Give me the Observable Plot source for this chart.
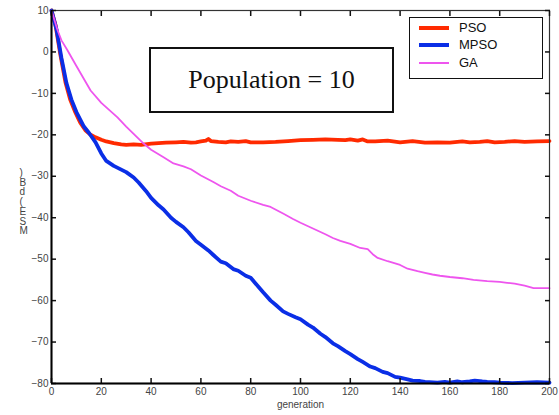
<!DOCTYPE html>
<html>
<head>
<meta charset="utf-8">
<script src="https://cdn.jsdelivr.net/npm/d3@7"></script>
<script src="https://cdn.jsdelivr.net/npm/@observablehq/plot@0.6"></script>
<style>
  html, body { margin: 0; padding: 0; background: #fff; }
  #wrap { position: relative; width: 559px; height: 415px; font-family: "Liberation Sans", Arial, sans-serif; }
  #legend { position: absolute; left: 409px; top: 17px; width: 132px; height: 60px; border: 1.5px solid #111; background: #fff; }
  .item { position: absolute; left: 9px; height: 16px; font-size: 13px; color: #111; }
  .item .sw { position: absolute; left: 0; width: 30px; }
  .item .lb { position: absolute; left: 40px; top: 0; line-height: 16px; white-space: nowrap; }
  #pop { position: absolute; left: 149px; top: 47px; width: 241px; height: 62px; border: 2px solid #111; background: #fff;
         font-family: "Liberation Serif", "Times New Roman", serif; font-size: 26px; display: flex; align-items: center; justify-content: center; color: #111; }
</style>
</head>
<body>
<div id="wrap"></div>
<script>
// ---- data ----
const seriesNames = ["PSO", "MPSO", "GA"];
const seriesColors = ["#ff2a00", "#0a2ee6", "#ee55ee"];
const seriesWidths = [3.8, 3.8, 1.8];

const psoGen = [0,1.6,3.6,5.6,7.5,9.6,11.5,13.6,15.5,17.7,20,22,25,28,30,33,36,40,43,46,50,53,56,58,60,62,63,64,67,70,72,75,78,80,85,90,95,100,105,110,115,118,120,123,125,127,130,135,140,145,150,155,160,165,168,172,175,178,182,186,190,195,200];
const psoMSE = [10,6.5,-0.8,-7.3,-11.5,-14.6,-17,-18.9,-19.9,-20.6,-21.2,-21.6,-22.0,-22.3,-22.4,-22.3,-22.4,-22.1,-22.0,-21.9,-21.8,-21.7,-21.9,-21.8,-21.6,-21.4,-21.0,-21.5,-21.7,-21.8,-21.6,-21.7,-21.5,-21.8,-21.8,-21.7,-21.5,-21.3,-21.2,-21.1,-21.2,-21.3,-21.1,-21.4,-21.1,-21.6,-21.6,-21.4,-21.8,-21.5,-21.9,-21.8,-21.9,-21.6,-21.8,-21.7,-21.5,-21.8,-21.7,-21.5,-21.7,-21.6,-21.5];

const mpsoGen = [0,2,4,6,8,10,13,15,17.7,20,22,25,28,30,33,35,38,40,43,45,48,50,53,55,58,60,63,65,68,70,73,75,78,80,83,85,88,90,93,95,98,100,103,105,108,110,113,115,118,120,123,125,128,130,133,135,138,140,143,145,148,150,155,158,160,163,165,168,170,173,175,178,180,185,190,195,200];
const mpsoMSE = [10,5.5,-1.5,-7.5,-11.5,-14.5,-18,-19.5,-21.8,-24.5,-26.3,-27.5,-28.4,-29.0,-30.3,-31.5,-33.6,-35.2,-37.0,-38.0,-40.0,-41.0,-42.3,-43.5,-45.6,-46.5,-47.9,-49.0,-50.6,-51.0,-52.4,-52.8,-54.0,-54.5,-56.6,-58.0,-60.0,-61.0,-62.6,-63.2,-64.0,-64.5,-65.8,-66.5,-68.0,-68.8,-70.3,-71.0,-72.2,-72.9,-74.1,-74.8,-75.9,-76.3,-77.2,-77.5,-78.4,-78.6,-79.0,-79.3,-79.4,-79.6,-79.8,-79.6,-79.8,-79.5,-79.7,-79.5,-79.3,-79.5,-79.6,-79.7,-79.8,-79.9,-79.8,-79.7,-79.8];

const gaGen = [0,2.4,4,6.4,10,15.7,20,26.5,30,37,40,45,49,53,56,60,65,68,72,75,80,85,88,93,97,100,105,110,113,116,120,124,127,129,131,135,138,140,143,147,150,153,156,160,165,169.5,175,180,183,186,190,193.6,200];
const gaMSE = [10,5.3,2.8,0.4,-3.4,-9.3,-12.3,-15.8,-18.0,-22.1,-23.6,-25.4,-26.9,-27.6,-28.3,-29.8,-31.4,-32.4,-33.5,-34.7,-35.9,-36.9,-37.4,-39.0,-40.3,-41.2,-42.6,-44.0,-44.9,-45.6,-46.3,-47.3,-47.6,-48.8,-49.7,-50.5,-51.0,-51.4,-52.3,-52.9,-53.3,-53.7,-54.0,-54.3,-54.6,-55.0,-55.3,-55.5,-55.7,-55.9,-56.4,-57.0,-57.0];

const xTicks = [0,20,40,60,80,100,120,140,160,180,200];
const yTicks = [10,0,-10,-20,-30,-40,-50,-60,-70,-80];
const xLabel = "generation";
const yLabel = "MSE(dB)";
const boxText = "Population = 10";

// ---- build table ----
const rows = [];
const gens = [psoGen, mpsoGen, gaGen];
const vals = [psoMSE, mpsoMSE, gaMSE];
seriesNames.forEach((s, i) => gens[i].forEach((g, j) => rows.push({series: s, gen: g, mse: vals[i][j]})));

const lineMarks = seriesNames.map((s, i) =>
  Plot.line(rows.filter(d => d.series === s), {x: "gen", y: "mse", stroke: seriesColors[i], strokeWidth: seriesWidths[i], strokeLinejoin: "round", strokeLinecap: "round"})
);

const chart = Plot.plot({
  width: 559,
  height: 415,
  marginLeft: 51,
  marginRight: 10,
  marginTop: 10,
  marginBottom: 32,
  style: {fontFamily: "Liberation Sans, Arial, sans-serif", fontSize: "10px", color: "#333", background: "#fff"},
  x: {domain: [0, 200]},
  y: {domain: [-80, 10]},
  marks: [
    ...lineMarks,
    Plot.frame({stroke: "#333", strokeWidth: 1.2}),
    Plot.axisX({ticks: xTicks, tickSize: -5, tickPadding: 9, label: null, stroke: "#111", strokeWidth: 1.5, fill: "#444"}),
    Plot.axisX({ticks: xTicks, anchor: "top", tickSize: -5, label: null, tickFormat: () => "", stroke: "#111", strokeWidth: 1.5}),
    Plot.axisY({ticks: yTicks, tickSize: -5, tickPadding: 8, label: null, stroke: "#111", strokeWidth: 1.5, fill: "#444"}),
    Plot.axisY({ticks: yTicks, anchor: "right", tickSize: -5, label: null, tickFormat: () => "", stroke: "#111", strokeWidth: 1.5}),
    Plot.ruleX([0], {stroke: "#000", strokeWidth: 2}),
    Plot.ruleY([-80], {stroke: "#000", strokeWidth: 2}),
    Plot.text([xLabel], {frameAnchor: "bottom", dy: 24, text: d => d, fill: "#444", fontSize: 10}),
    Plot.text([yLabel], {frameAnchor: "left", dx: -32, dy: 5, text: d => Array.from(d).reverse().join("\n"), lineHeight: 0.97, fill: "#444", fontSize: 10})
  ]
});

const wrap = document.getElementById("wrap");
wrap.appendChild(chart);

const pop = document.createElement("div");
pop.id = "pop";
pop.textContent = boxText;
wrap.appendChild(pop);

const legend = document.createElement("div");
legend.id = "legend";
const tops = [2, 19, 37];
seriesNames.forEach((s, i) => {
  const it = document.createElement("div");
  it.className = "item";
  it.style.top = tops[i] + "px";
  const sw = document.createElement("div");
  sw.className = "sw";
  sw.style.height = (seriesWidths[i] + 0.3) + "px";
  sw.style.top = (8 - (seriesWidths[i] + 0.3) / 2) + "px";
  sw.style.background = seriesColors[i];
  const lb = document.createElement("div");
  lb.className = "lb";
  lb.textContent = s;
  it.appendChild(sw); it.appendChild(lb);
  legend.appendChild(it);
});
wrap.appendChild(legend);
</script>
</body>
</html>
